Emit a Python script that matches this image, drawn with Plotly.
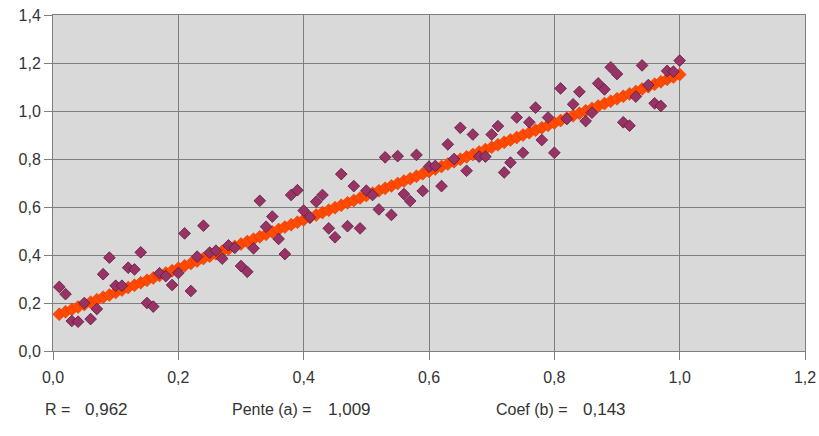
import plotly.graph_objects as go

x_vals = [round(0.01 * i, 2) for i in range(1, 101)]
y_vals = [0.267, 0.237, 0.125, 0.122, 0.200, 0.133, 0.175, 0.320, 0.389, 0.272,
          0.272, 0.347, 0.340, 0.411, 0.200, 0.185, 0.324, 0.312, 0.275, 0.325,
          0.490, 0.250, 0.393, 0.522, 0.410, 0.418, 0.385, 0.440, 0.430, 0.354,
          0.330, 0.428, 0.626, 0.518, 0.560, 0.467, 0.404, 0.650, 0.670, 0.585,
          0.557, 0.622, 0.650, 0.511, 0.474, 0.737, 0.520, 0.687, 0.511, 0.668,
          0.650, 0.590, 0.807, 0.567, 0.812, 0.654, 0.625, 0.817, 0.667, 0.768,
          0.771, 0.687, 0.861, 0.800, 0.930, 0.751, 0.902, 0.810, 0.810, 0.902,
          0.937, 0.744, 0.785, 0.973, 0.826, 0.953, 1.014, 0.879, 0.973, 0.826,
          1.094, 0.967, 1.028, 1.080, 0.958, 0.993, 1.115, 1.090, 1.182, 1.154,
          0.953, 0.939, 1.060, 1.190, 1.108, 1.032, 1.021, 1.167, 1.164, 1.210]

R_VAL = 0.962
PENTE = 1.009
COEF = 0.143
fit_vals = [PENTE * x + COEF for x in x_vals]

x_ticks = [0.0, 0.2, 0.4, 0.6, 0.8, 1.0, 1.2]
y_ticks = [0.0, 0.2, 0.4, 0.6, 0.8, 1.0, 1.2, 1.4]

def fr(v, d):
    return f"{v:.{d}f}".replace(".", ",")

fig = go.Figure()
fig.add_trace(go.Scatter(
    x=x_vals, y=fit_vals, mode="markers",
    marker=dict(symbol="diamond", size=10, color="#ff4a00",
                line=dict(color="#e03000", width=0.5)),
    showlegend=False, hoverinfo="skip", cliponaxis=False))
fig.add_trace(go.Scatter(
    x=x_vals, y=y_vals, mode="markers",
    marker=dict(symbol="diamond", size=9, color="#993366",
                line=dict(color="#5a1a3a", width=0.8)),
    showlegend=False, cliponaxis=False))

tick_font = dict(family="Liberation Sans, Arial, sans-serif", size=16, color="#333333")
text_font = dict(family="Liberation Sans, Arial, sans-serif", size=16, color="#333333")
num_font = dict(family="Liberation Sans, Arial, sans-serif", size=17, color="#333333")

axis_common = dict(showgrid=True, gridcolor="#7f7f7f", gridwidth=1,
                   zeroline=False, showline=True, linecolor="#7f7f7f", mirror=True,
                   ticks="outside", ticklen=8, tickcolor="#7f7f7f",
                   automargin=False, tickfont=tick_font,
                   ticklabeloverflow="allow")

fig.update_layout(
    width=819, height=436,
    margin=dict(l=53, r=14, t=15, b=85),
    paper_bgcolor="white", plot_bgcolor="#d9d9d9",
    font=text_font,
    xaxis=dict(range=[0, 1.2], tickvals=x_ticks, ticklabelstandoff=4,
               ticktext=[fr(v, 1) for v in x_ticks], **axis_common),
    yaxis=dict(range=[0, 1.4], tickvals=y_ticks,
               ticktext=[fr(v, 1) for v in y_ticks], **axis_common),
)

def px_x(px):
    return (px - 53) / 752

text_y = -(409 - 351) / 336
labels = [("R =", 43, fr(R_VAL, 3), 83),
          ("Pente (a) =", 230, fr(PENTE, 3), 326),
          ("Coef (b) =", 494, fr(COEF, 3), 581)]
for lab, lx, num, nx in labels:
    fig.add_annotation(text=lab, xref="paper", yref="paper",
                       x=px_x(lx), y=text_y, xanchor="left", yanchor="middle",
                       showarrow=False, font=text_font)
    fig.add_annotation(text=num, xref="paper", yref="paper",
                       x=px_x(nx), y=text_y, xanchor="left", yanchor="middle",
                       showarrow=False, font=num_font)

fig.write_html("out.html", config={"displayModeBar": False},
               post_script="document.body.style.margin='0';"
                           "document.body.style.overflow='hidden';")
